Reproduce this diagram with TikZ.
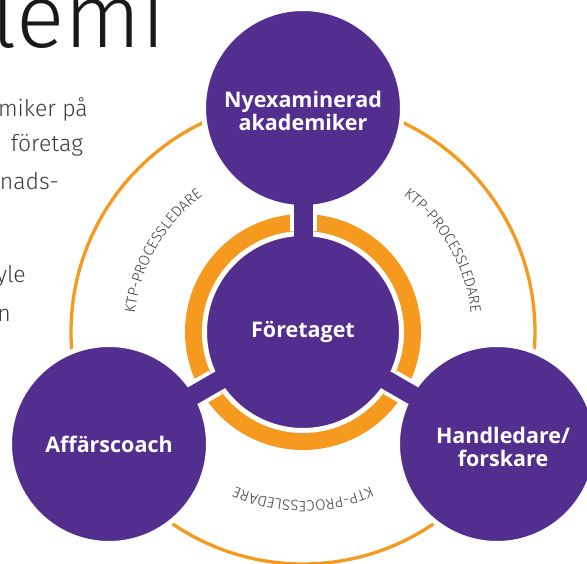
\documentclass[tikz,border=0pt]{standalone}
\usepackage{fontspec}
\setmainfont{Open Sans}
\IfFontExistsTF{Fira Sans Light}{\newfontfamily\lightfont{Fira Sans Light}}{\newfontfamily\lightfont{Fira Sans}}
\usetikzlibrary{decorations.text}

\definecolor{lila}{HTML}{522E8E}
\definecolor{ktporange}{HTML}{F59A1F}
\definecolor{grau}{HTML}{3C3C3C}

\newcommand\ktpfont{\lightfont\fontsize{15}{16}\selectfont}
% two lines, set a little below the middle of the circle
\newcommand\tief[1]{\raisebox{-6pt}[\height][\depth]{\begin{tabular}{@{}c@{}}#1\end{tabular}}}

\begin{document}
\begin{tikzpicture}[x=1pt, y=1pt,
    rolle/.style={circle, fill=lila, draw=white, line width=5pt, minimum size=199pt, inner sep=0pt,
        text=white, font=\bfseries\fontsize{21.5}{23}\selectfont},
    brodtext/.style={anchor=base east, inner sep=0pt, text=grau, font=\lightfont\fontsize{23}{28}\selectfont},
    ktp/.style={decorate, decoration={text along path, text align=center, text color=grau,
        text={|\ktpfont|KTP-PROCESSLEDARE}}}]

    \useasboundingbox (0,0) rectangle (587,563);
    \clip (0,0) rectangle (587,563);
    \fill[white] (0,0) rectangle (587,563);

    % text cut off at the left
    \node[anchor=base east, inner sep=0pt, text=black!90, font=\lightfont\fontsize{90}{96}\selectfont] (rubrik) at (166,515) {lemi};
    \node[brodtext] (rad1) at (88,446) {miker på};
    \node[brodtext] (rad2) at (83,411) {företag};
    \node[brodtext] (rad3) at (59,373) {nads-};
    \node[brodtext] (rad4) at (26,280) {yle};
    \node[brodtext] (rad5) at (11,241) {n};

    \coordinate (mitt) at (303,231);

    % rings
    \draw[ktporange, line width=3.3pt] (mitt) circle (232);
    \fill[ktporange] (mitt) circle (118);

    \node[rolle, minimum size=197pt] (foretaget) at (mitt) {Företaget};
    \node[rolle] (nyexaminerad) at (303,455) {\tief{Nyexaminerad\\akademiker}};
    \node[rolle] (affarscoach) at (109,119) {Affärscoach};
    \node[rolle] (handledare) at (497,119) {\hspace*{12pt}\tief{Handledare/\\forskare}};

    \foreach \n in {nyexaminerad, affarscoach, handledare} {
        \draw[white, line width=27pt] (foretaget) -- (\n);
        \draw[lila, line width=19pt, shorten <=-8pt, shorten >=-8pt] (foretaget) -- (\n);
    }

    % labels along the ring
    \path[ktp, shift={(mitt)}] (175:169) arc[start angle=175, end angle=125, radius=169];
    \path[ktp, shift={(mitt)}] (55:169) arc[start angle=55, end angle=5, radius=169];
    \path[ktp, shift={(mitt)}] (295:169) arc[start angle=295, end angle=245, radius=169];
\end{tikzpicture}
\end{document}
